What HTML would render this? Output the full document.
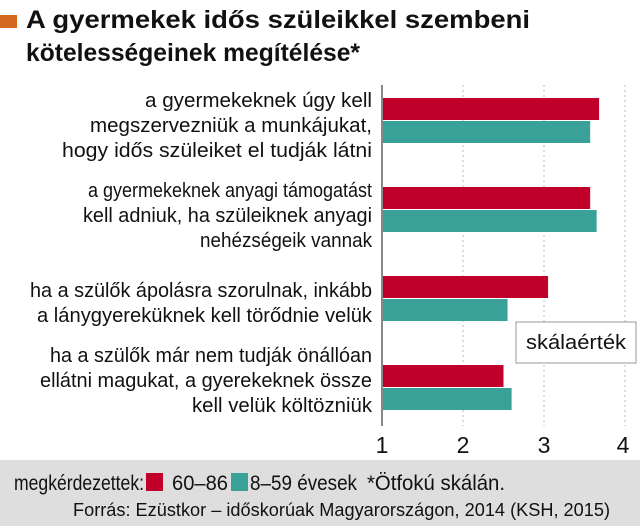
<!DOCTYPE html>
<html><head><meta charset="utf-8"><style>
html,body{margin:0;padding:0;background:#fff;}
svg{display:block;font-family:"Liberation Sans Narrow","Liberation Sans",sans-serif;}
</style></head><body>
<svg id="chart" width="640" height="528" viewBox="0 0 640 528" xmlns="http://www.w3.org/2000/svg">
<rect x="0" y="15" width="17" height="13" fill="#d2691e"/>
<text x="26" y="28" font-size="25" font-weight="bold" fill="#111" textLength="504" lengthAdjust="spacingAndGlyphs">A gyermekek idős szüleikkel szembeni</text>
<text x="26" y="61" font-size="25" font-weight="bold" fill="#111" textLength="334" lengthAdjust="spacingAndGlyphs">kötelességeinek megítélése*</text>
<g id="grid"></g>
<g id="bars"></g>
<g id="labels"></g>
<line x1="382" y1="85" x2="382" y2="426" stroke="#888" stroke-width="2"/>
<rect x="516" y="322" width="120" height="41" fill="#fff" stroke="#999"/>
<text x="576" y="349" font-size="20" text-anchor="middle" fill="#111" textLength="100" lengthAdjust="spacingAndGlyphs">skálaérték</text>
<rect x="0" y="460" width="640" height="66" fill="#dedede"/>
<text x="14" y="490" font-size="21" fill="#111" textLength="130" lengthAdjust="spacingAndGlyphs">megkérdezettek:</text>
<rect x="146" y="473" width="17" height="18" fill="#c0002a"/>
<text x="172" y="490" font-size="21" fill="#111" textLength="56" lengthAdjust="spacingAndGlyphs">60–86</text>
<rect x="231" y="473" width="17" height="18" fill="#3aa198"/>
<text x="250" y="490" font-size="21" fill="#111" textLength="107" lengthAdjust="spacingAndGlyphs">8–59 évesek</text>
<text x="367" y="490" font-size="21" fill="#111" textLength="138" lengthAdjust="spacingAndGlyphs">*Ötfokú skálán.</text>
<text x="73" y="516" font-size="18" fill="#111" textLength="537" lengthAdjust="spacingAndGlyphs">Forrás: Ezüstkor – időskorúak Magyarországon, 2014 (KSH, 2015)</text>
</svg>
<script>
const categories = [
  ["a gyermekeknek úgy kell","megszervezniük a munkájukat,","hogy idős szüleiket el tudják látni"],
  ["a gyermekeknek anyagi támogatást","kell adniuk, ha szüleiknek anyagi","nehézségeik vannak"],
  ["ha a szülők ápolásra szorulnak, inkább","a lánygyereküknek kell törődnie velük"],
  ["ha a szülők már nem tudják önállóan","ellátni magukat, a gyerekeknek össze","kell velük költözniük"]
];
const seriesOld = [3.68, 3.57, 3.05, 2.50];
const seriesYoung = [3.57, 3.65, 2.55, 2.60];
const tickLabels = [1, 2, 3, 4];

const NS = "http://www.w3.org/2000/svg";
const x0 = 382, pxPerUnit = 81;
function xScale(v){ return x0 + (v - 1) * pxPerUnit; }
const groupTops = [98, 187, 276, 365];
const barH = 23;
const labelBase = [[107,132,157],[197,222,247],[297,322],[362,387,412]];
const labelWidths = [[227,282,310],[284,289,172],[342,335],[322,332,180]];

const grid = document.getElementById('grid');
tickLabels.forEach((t,i)=>{
  const x = xScale(t);
  if (i>0){
    const l = document.createElementNS(NS,'line');
    l.setAttribute('x1',x); l.setAttribute('x2',x);
    l.setAttribute('y1',85); l.setAttribute('y2',426);
    l.setAttribute('stroke','#bbb'); l.setAttribute('stroke-dasharray','2,3');
    
    
    grid.appendChild(l);
  }
  const tx = document.createElementNS(NS,'text');
  tx.setAttribute('x', i===3 ? x-2 : x);
  tx.setAttribute('y',453);
  tx.setAttribute('font-size','23');
  tx.setAttribute('text-anchor','middle');
  tx.setAttribute('fill','#111');
  tx.textContent = t;
  
  
  grid.appendChild(tx);
});

const bars = document.getElementById('bars');
categories.forEach((c,i)=>{
  [[seriesOld,'#c0002a','old',0],[seriesYoung,'#3aa198','young',1]].forEach(([s,col,nm,k])=>{
    const r = document.createElementNS(NS,'rect');
    r.setAttribute('x',x0);
    r.setAttribute('y',groupTops[i]+k*barH);
    r.setAttribute('width',xScale(s[i])-x0);
    r.setAttribute('height',barH-1);
    r.setAttribute('fill',col);
    
    
    bars.appendChild(r);
  });
});

const labels = document.getElementById('labels');
categories.forEach((c,i)=>{
  c.forEach((line,j)=>{
    const t = document.createElementNS(NS,'text');
    t.setAttribute('x',372);
    t.setAttribute('y',labelBase[i][j]);
    t.setAttribute('font-size','20');
    t.setAttribute('text-anchor','end');
    t.setAttribute('fill','#111');
    t.setAttribute('textLength',labelWidths[i][j]);
    t.setAttribute('lengthAdjust','spacingAndGlyphs');
    t.textContent = line;
    
    
    labels.appendChild(t);
  });
});
</script>
</body></html>
